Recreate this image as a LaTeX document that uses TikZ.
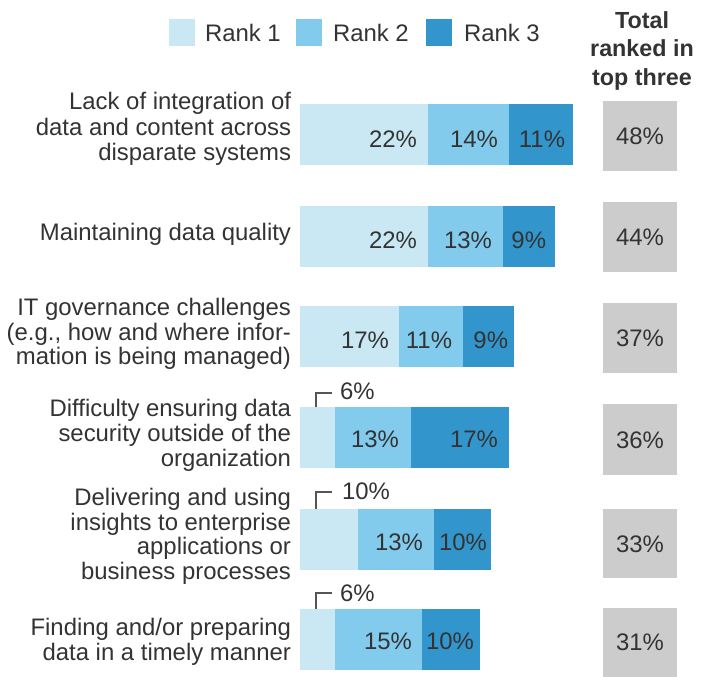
\documentclass[tikz,border=0pt]{standalone}
\usepackage{fontspec}
\setmainfont{Liberation Sans}
\definecolor{rone}{RGB}{201,232,244}
\definecolor{rtwo}{RGB}{130,203,236}
\definecolor{rthree}{RGB}{50,150,204}
\definecolor{totgray}{RGB}{204,204,204}
\definecolor{txt}{RGB}{51,51,51}
\definecolor{leader}{RGB}{85,85,85}
\begin{document}
\begin{tikzpicture}[x=1pt,y=-1pt,
  every node/.style={inner sep=0pt, outer sep=0pt, text=txt, font=\fontsize{23.9}{25}\selectfont},
  lbl/.style={anchor=base east},
  val/.style={anchor=base east},
  tot/.style={anchor=center},
  hdr/.style={anchor=base, font=\fontsize{23.3}{28}\selectfont\bfseries},
  leg/.style={anchor=base west},
  lead/.style={draw=leader, line width=1.5pt},
  sone/.style={fill=rone},
  stwo/.style={fill=rtwo},
  sthree/.style={fill=rthree},
  totbox/.style={fill=totgray}]
\useasboundingbox (0,0) rectangle (712,677);

% legend
\fill[sone] (169,19) rectangle (195,46);
\node[leg] (lg1) at (205,42) {Rank 1};
\fill[stwo] (296,19) rectangle (322,46);
\node[leg] (lg2) at (333,42) {Rank 2};
\fill[sthree] (426,19) rectangle (452,46);
\node[leg] (lg3) at (464,42) {Rank 3};

% header
\node[hdr] (h1) at (642,29) {Total};
\node[hdr] (h2) at (642,57) {ranked in};
\node[hdr] (h3) at (642,85) {top three};

% row 1
\node[lbl] (a1) at (291,110) {Lack of integration of};
\node[lbl] (a2) at (291,135) {data and content across};
\node[lbl] (a3) at (291,160) {disparate systems};
\fill[sone] (300,104) rectangle (428,165);
\fill[stwo] (428,104) rectangle (509,165);
\fill[sthree] (509,104) rectangle (573,165);
\node[val] (v11) at (417,147.5) {22\%};
\node[val] (v12) at (498,147.5) {14\%};
\node[val] (v13) at (565,147.5) {11\%};
\fill[totbox] (603,101) rectangle (677,171);
\node[tot] (t1) at (640,136) {48\%};

% row 2
\node[lbl] (b1) at (291,240) {Maintaining data quality};
\fill[sone] (300,206) rectangle (428,267);
\fill[stwo] (428,206) rectangle (503,267);
\fill[sthree] (503,206) rectangle (555,267);
\node[val] (v21) at (417,248) {22\%};
\node[val] (v22) at (492,248) {13\%};
\node[val] (v23) at (546,248) {9\%};
\fill[totbox] (603,202) rectangle (677,272);
\node[tot] (t2) at (640,237) {44\%};

% row 3
\node[lbl] (c1) at (291,315) {IT governance challenges};
\node[lbl] (c2) at (291,340) {(e.g., how and where infor-};
\node[lbl] (c3) at (291,364) {mation is being managed)};
\fill[sone] (300,306) rectangle (399,367);
\fill[stwo] (399,306) rectangle (463,367);
\fill[sthree] (463,306) rectangle (514,367);
\node[val] (v31) at (389,348) {17\%};
\node[val] (v32) at (452,348) {11\%};
\node[val] (v33) at (508,348) {9\%};
\fill[totbox] (603,303) rectangle (677,373);
\node[tot] (t3) at (640,338) {37\%};

% row 4
\node[lbl] (d1) at (291,416) {Difficulty ensuring data};
\node[lbl] (d2) at (291,441) {security outside of the};
\node[lbl] (d3) at (291,466) {organization};
\fill[sone] (300,407) rectangle (335,468);
\fill[stwo] (335,407) rectangle (411,468);
\fill[sthree] (411,407) rectangle (509,468);
\coordinate (p4a) at (316,407);
\coordinate (p4b) at (316,393);
\coordinate (p4c) at (332,393);
\draw[lead] (p4a) -- (p4b) -- (p4c);
\node[leg] (s4) at (340,399) {6\%};
\node[val] (v42) at (399,447) {13\%};
\node[val] (v43) at (498,447) {17\%};
\fill[totbox] (603,404) rectangle (677,475);
\node[tot] (t4) at (640,440) {36\%};

% row 5
\node[lbl] (e1) at (291,505) {Delivering and using};
\node[lbl] (e2) at (291,530) {insights to enterprise};
\node[lbl] (e3) at (291,554) {applications or};
\node[lbl] (e4) at (291,579) {business processes};
\fill[sone] (300,509) rectangle (358,570);
\fill[stwo] (358,509) rectangle (434,570);
\fill[sthree] (434,509) rectangle (491,570);
\coordinate (p5a) at (316,509);
\coordinate (p5b) at (316,492);
\coordinate (p5c) at (332,492);
\draw[lead] (p5a) -- (p5b) -- (p5c);
\node[leg] (s5) at (342,499) {10\%};
\node[val] (v52) at (423,550) {13\%};
\node[val] (v53) at (487,550) {10\%};
\fill[totbox] (603,509) rectangle (677,578);
\node[tot] (t5) at (640,544) {33\%};

% row 6
\node[lbl] (f1) at (291,635) {Finding and/or preparing};
\node[lbl] (f2) at (291,660) {data in a timely manner};
\fill[sone] (300,609) rectangle (335,670);
\fill[stwo] (335,609) rectangle (422,670);
\fill[sthree] (422,609) rectangle (480,670);
\coordinate (p6a) at (316,609);
\coordinate (p6b) at (316,593);
\coordinate (p6c) at (332,593);
\draw[lead] (p6a) -- (p6b) -- (p6c);
\node[leg] (s6) at (340,601) {6\%};
\node[val] (v62) at (412,649) {15\%};
\node[val] (v63) at (474,649) {10\%};
\fill[totbox] (603,608) rectangle (677,677);
\node[tot] (t6) at (640,642) {31\%};
\end{tikzpicture}
\end{document}
